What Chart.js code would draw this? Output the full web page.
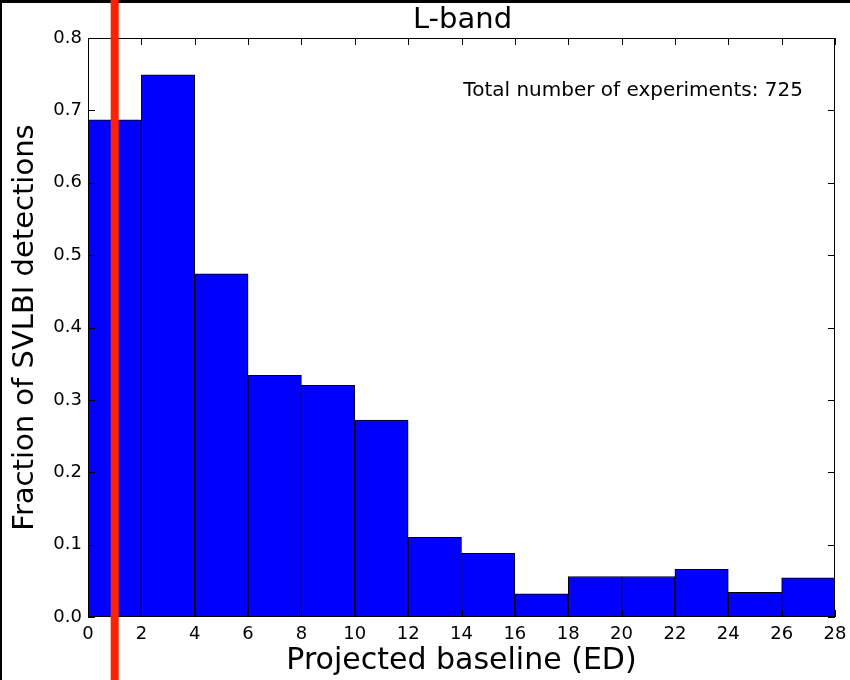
<!DOCTYPE html>
<html>
<head>
<meta charset="utf-8">
<script src="https://cdn.jsdelivr.net/npm/chart.js@4/dist/chart.umd.min.js"></script>
<style>
  html, body { margin: 0; padding: 0; background: #fff; }
  canvas { display: block; }
</style>
</head>
<body>
<canvas id="hist" width="850" height="680"></canvas>
<script>
// histogram bins (projected baseline, ED) and detection fractions
const binCenters = [1, 3, 5, 7, 9, 11, 13, 15, 17, 19, 21, 23, 25, 27];
const fractions = [0.687, 0.749, 0.474, 0.334, 0.320, 0.272, 0.110, 0.088, 0.032, 0.056, 0.056, 0.066, 0.034, 0.054];
const xTicks = [0, 2, 4, 6, 8, 10, 12, 14, 16, 18, 20, 22, 24, 26, 28];
const yTicks = [0, 0.1, 0.2, 0.3, 0.4, 0.5, 0.6, 0.7, 0.8];
const markerX = 1;
const titleText = 'L-band';
const noteText = 'Total number of experiments: 725';

const FONT = 'DejaVu Sans';

// frame, inward ticks, title, note, red marker line
const decor = {
  id: 'decor',
  afterDatasetsDraw(chart) {
    const { ctx, chartArea: a, scales: { x, y } } = chart;
    ctx.save();
    ctx.strokeStyle = '#000';
    ctx.lineWidth = 1;
    ctx.strokeRect(a.left + 0.5, a.top + 0.5, a.right - a.left - 1, a.bottom - a.top - 1);
    ctx.beginPath();
    xTicks.forEach(v => {
      const px = Math.round(x.getPixelForValue(v)) + 0.5;
      ctx.moveTo(px, a.top); ctx.lineTo(px, a.top + 7);
      ctx.moveTo(px, a.bottom); ctx.lineTo(px, a.bottom - 7);
    });
    yTicks.forEach(v => {
      const py = Math.round(y.getPixelForValue(v)) + 0.5;
      ctx.moveTo(a.left, py); ctx.lineTo(a.left + 7, py);
      ctx.moveTo(a.right, py); ctx.lineTo(a.right - 7, py);
    });
    ctx.stroke();
    ctx.restore();
  },
  afterDraw(chart) {
    const { ctx, chartArea: a, scales: { x }, width, height } = chart;
    ctx.save();
    ctx.fillStyle = '#000';
    ctx.textBaseline = 'alphabetic';
    ctx.font = '29px "' + FONT + '"';
    ctx.textAlign = 'center';
    ctx.fillText(titleText, (a.left + a.right) / 2 + 1, 28);
    ctx.font = '20px "' + FONT + '"';
    ctx.textAlign = 'right';
    ctx.fillText(noteText, 803, 96);
    // black border on top and left edge
    ctx.fillRect(0, 0, width, 3);
    ctx.fillRect(0, 0, 2, height);
    // red marker line across the whole image
    ctx.strokeStyle = '#ff2200';
    ctx.lineWidth = 8;
    const px = x.getPixelForValue(markerX);
    ctx.beginPath();
    ctx.moveTo(px, 0);
    ctx.lineTo(px, height);
    ctx.stroke();
    ctx.restore();
  }
};

new Chart(document.getElementById('hist'), {
  type: 'bar',
  data: {
    datasets: [{
      data: binCenters.map((c, i) => ({ x: c, y: fractions[i] })),
      backgroundColor: '#0000ff',
      borderColor: '#000',
      borderWidth: 1,
      borderSkipped: false,
      barPercentage: 1,
      categoryPercentage: 1
    }]
  },
  options: {
    responsive: false,
    animation: false,
    layout: { padding: { left: 0, top: 38, right: 15, bottom: 0 } },
    plugins: { legend: { display: false }, tooltip: { enabled: false } },
    scales: {
      x: {
        type: 'linear',
        offset: false,
        min: 0,
        max: 28,
        afterBuildTicks: s => { s.ticks = xTicks.map(v => ({ value: v })); },
        afterFit: s => { s.height = 63; s.paddingRight = 15; s.paddingLeft = 0; },
        grid: { display: false, drawTicks: false },
        border: { display: false },
        ticks: { color: '#000', padding: 7, maxRotation: 0, font: { family: FONT, size: 18 } },
        title: { display: true, text: 'Projected baseline (ED)', color: '#000', padding: { top: 0, bottom: 1 }, font: { family: FONT, size: 30 } }
      },
      y: {
        min: 0,
        max: 0.8,
        afterBuildTicks: s => { s.ticks = yTicks.map(v => ({ value: v })); },
        afterFit: s => { s.width = 88; },
        grid: { display: false, drawTicks: false },
        border: { display: false },
        ticks: { color: '#000', padding: 6, callback: v => v.toFixed(1), font: { family: FONT, size: 18 } },
        title: { display: true, text: 'Fraction of SVLBI detections', color: '#000', padding: { top: 8, bottom: 0 }, font: { family: FONT, size: 29 } }
      }
    }
  },
  plugins: [decor]
});
</script>
</body>
</html>
